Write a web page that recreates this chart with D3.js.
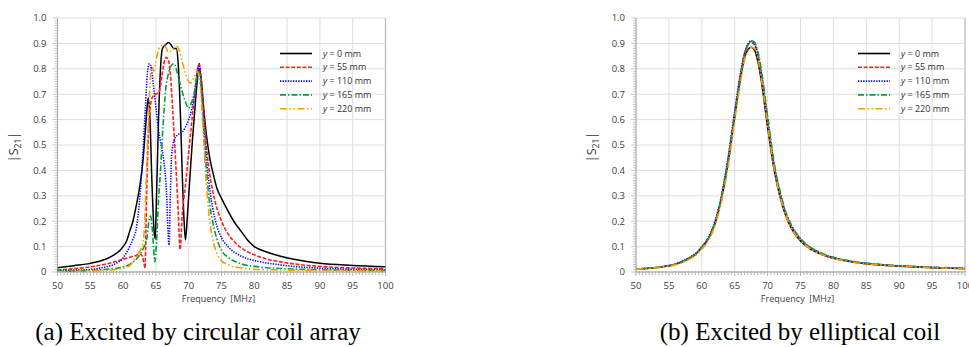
<!DOCTYPE html>
<html>
<head>
<meta charset="utf-8">
<script src="https://cdn.jsdelivr.net/npm/d3@7"></script>
<style>
  html,body{margin:0;padding:0;background:#fff;}
  svg{display:block;}
  text{font-family:"Open Sans","Noto Sans",sans-serif;}
  text.caption{font-family:"Liberation Serif","Times New Roman",serif;}
</style>
</head>
<body>
<svg id="chart" width="969" height="347"></svg>
<script>
// ---------- DATA ----------
const seriesNames = ["y = 0 mm","y = 55 mm","y = 110 mm","y = 165 mm","y = 220 mm"];
const xTicks = [50,55,60,65,70,75,80,85,90,95,100];
const yTicks = [0,0.1,0.2,0.3,0.4,0.5,0.6,0.7,0.8,0.9,1.0];
const yTickLabels = ["0","0.1","0.2","0.3","0.4","0.5","0.6","0.7","0.8","0.9","1.0"];
const captions = ["(a) Excited by circular coil array","(b) Excited by elliptical coil"];

// (a) circular coil array: [frequency MHz, |S21|]
const circY0 = [[50,0.017],[52.5,0.025],[55,0.034],[57.5,0.052],[58.5,0.065],[59.5,0.085],[60,0.1],[60.5,0.12],[61,0.16],[61.5,0.2],[62,0.26],[62.5,0.33],[63,0.43],[63.4,0.56],[63.7,0.66],[63.85,0.685],[64.1,0.6],[64.4,0.35],[64.7,0.17],[64.9,0.13],[65.1,0.3],[65.4,0.6],[65.7,0.8],[66,0.88],[66.5,0.895],[66.9,0.904],[67.3,0.895],[67.7,0.88],[68.1,0.88],[68.4,0.82],[68.7,0.65],[69,0.4],[69.3,0.2],[69.5,0.126],[69.8,0.22],[70.2,0.38],[70.6,0.53],[71,0.66],[71.3,0.75],[71.6,0.8],[71.9,0.76],[72.3,0.64],[72.7,0.54],[73.2,0.45],[73.7,0.39],[74.3,0.33],[75,0.29],[76,0.24],[77,0.195],[78,0.16],[79,0.125],[80,0.1],[82,0.078],[84,0.062],[86,0.05],[88,0.041],[90,0.034],[95,0.026],[100,0.021]];
const circY55 = [[50,0.008],[52.5,0.013],[55,0.02],[57.5,0.032],[59,0.042],[60,0.05],[61,0.058],[62,0.065],[62.5,0.07],[62.9,0.065],[63.2,0.03],[63.35,0.015],[63.5,0.2],[63.7,0.42],[63.9,0.56],[64.1,0.64],[64.5,0.69],[65,0.7],[65.5,0.71],[65.9,0.77],[66.3,0.83],[66.6,0.845],[66.9,0.835],[67.2,0.78],[67.6,0.62],[68,0.44],[68.4,0.24],[68.7,0.088],[69,0.22],[69.5,0.34],[70,0.47],[70.5,0.6],[71,0.72],[71.3,0.79],[71.6,0.82],[71.9,0.76],[72.3,0.62],[72.8,0.47],[73.3,0.37],[74,0.28],[75,0.2],[76,0.15],[77,0.118],[78,0.095],[80,0.068],[82,0.05],[84,0.04],[86,0.032],[90,0.022],[95,0.016],[100,0.013]];
const circY110 = [[50,0.005],[52.5,0.007],[55,0.01],[57,0.018],[59,0.035],[60,0.055],[60.5,0.075],[61,0.1],[61.5,0.13],[62,0.17],[62.5,0.28],[63,0.46],[63.4,0.65],[63.7,0.78],[64,0.82],[64.3,0.8],[64.6,0.74],[65,0.65],[65.4,0.56],[65.8,0.5],[66.2,0.44],[66.6,0.32],[66.85,0.16],[67,0.106],[67.2,0.3],[67.4,0.46],[67.8,0.52],[68.3,0.54],[69,0.55],[69.5,0.57],[70,0.6],[70.5,0.645],[71,0.72],[71.3,0.78],[71.6,0.82],[71.9,0.74],[72.3,0.58],[72.8,0.42],[73.3,0.31],[74,0.21],[75,0.135],[76,0.1],[77,0.077],[78,0.062],[80,0.045],[82,0.035],[84,0.028],[86,0.022],[90,0.015],[95,0.011],[100,0.009]];
const circY165 = [[50,0.003],[52.5,0.004],[55,0.006],[58,0.012],[60,0.02],[61,0.03],[62,0.05],[62.6,0.07],[63.2,0.1],[63.6,0.13],[64,0.21],[64.2,0.22],[64.45,0.17],[64.85,0.04],[65.1,0.12],[65.4,0.28],[65.7,0.4],[66.1,0.58],[66.5,0.72],[66.9,0.78],[67.4,0.815],[67.8,0.82],[68.2,0.79],[68.6,0.75],[69,0.71],[69.5,0.67],[69.95,0.645],[70.4,0.665],[70.8,0.7],[71.2,0.76],[71.6,0.79],[71.9,0.72],[72.2,0.6],[72.7,0.4],[73.2,0.27],[73.8,0.18],[74.3,0.13],[75,0.085],[76,0.058],[77,0.042],[78,0.032],[80,0.022],[84,0.014],[90,0.009],[95,0.007],[100,0.006]];
const circY220 = [[50,0.002],[55,0.004],[58,0.008],[60,0.015],[61,0.025],[61.5,0.04],[62,0.06],[62.5,0.08],[63,0.11],[63.3,0.2],[63.6,0.42],[63.9,0.62],[64.2,0.78],[64.4,0.815],[64.7,0.79],[65,0.83],[65.4,0.875],[65.9,0.893],[66.4,0.89],[66.9,0.865],[67.3,0.87],[67.7,0.878],[68.2,0.888],[68.6,0.87],[69,0.83],[69.4,0.79],[69.8,0.76],[70.3,0.744],[70.8,0.765],[71.3,0.79],[71.6,0.77],[71.9,0.69],[72.2,0.56],[72.6,0.38],[73,0.25],[73.5,0.15],[74,0.095],[74.8,0.05],[76,0.028],[78,0.016],[80,0.011],[84,0.008],[90,0.006],[100,0.004]];

// (b) elliptical coil: shared frequency grid
const ellFreq = [50,52,54,56,58,59,60,61,62,63,64,65,66,66.5,67,67.5,68,68.5,69,70,71,72,73,74,75,76,77,78,80,82,85,88,90,95,100];
const ellY0   = [0.012,0.015,0.02,0.03,0.052,0.068,0.095,0.13,0.19,0.29,0.43,0.61,0.78,0.845,0.875,0.885,0.875,0.83,0.76,0.57,0.40,0.285,0.205,0.155,0.122,0.1,0.083,0.071,0.054,0.043,0.032,0.026,0.023,0.017,0.013];
const ellY55  = [0.012,0.015,0.021,0.031,0.054,0.07,0.098,0.134,0.196,0.296,0.445,0.625,0.795,0.86,0.893,0.905,0.895,0.855,0.785,0.595,0.415,0.297,0.212,0.162,0.128,0.104,0.087,0.074,0.056,0.045,0.033,0.027,0.024,0.018,0.014];
const ellY110 = [0.012,0.015,0.021,0.032,0.055,0.072,0.1,0.137,0.2,0.302,0.452,0.632,0.8,0.863,0.897,0.91,0.9,0.86,0.79,0.6,0.42,0.3,0.215,0.165,0.13,0.105,0.088,0.075,0.057,0.045,0.034,0.027,0.024,0.018,0.014];
const ellY165 = [0.012,0.015,0.021,0.031,0.053,0.07,0.097,0.133,0.195,0.295,0.44,0.62,0.79,0.855,0.893,0.91,0.905,0.87,0.805,0.615,0.43,0.307,0.22,0.168,0.132,0.107,0.09,0.077,0.058,0.046,0.035,0.028,0.025,0.019,0.015];
const ellY220 = [0.011,0.014,0.019,0.028,0.049,0.064,0.09,0.124,0.182,0.278,0.415,0.595,0.765,0.835,0.87,0.885,0.88,0.84,0.77,0.58,0.405,0.288,0.207,0.156,0.123,0.1,0.083,0.071,0.054,0.043,0.032,0.026,0.023,0.017,0.013];

// ---------- STYLE ----------
const colors = ["#000000","#ff2020","#0000ff","#00a040","#ff9900"];
const dashes = [null,"4,1.6","1.3,1.3","6,2,1.5,2","7,2.5,1.5,2.5,1.5,2.5"];

const svg = d3.select("#chart");

function drawPanel(cfg){
  const x = d3.scaleLinear().domain([50,100]).range([cfg.x0, cfg.x1]);
  const y = d3.scaleLinear().domain([0,1]).range([272, 18]);
  const g = svg.append("g");

  // grid
  g.append("g").selectAll("line").data(xTicks).join("line")
    .attr("x1",d=>x(d)).attr("x2",d=>x(d)).attr("y1",y(0)).attr("y2",y(1))
    .attr("stroke", d=> d===100 ? "#bdbdbd" : "#dedede").attr("stroke-width", d=> d===100?1.3:1);
  g.append("g").selectAll("line").data(yTicks).join("line")
    .attr("x1",x(50)).attr("x2",x(100)).attr("y1",d=>y(d)).attr("y2",d=>y(d))
    .attr("stroke","#dedede").attr("stroke-width",1);

  // minor ticks
  const xMinor = d3.range(50,100.001,0.5);
  g.append("g").selectAll("line").data(xMinor).join("line")
    .attr("x1",d=>x(d)).attr("x2",d=>x(d)).attr("y1",y(0)-1).attr("y2",d=> (d%5===0)? y(0)+4 : y(0)+3)
    .attr("stroke","#a0a0a0").attr("stroke-width",0.8);
  const yMinor = d3.range(0,1.0001,0.01);
  g.append("g").selectAll("line").data(yMinor).join("line")
    .attr("x1",d=> (Math.round(d*100)%10===0)? x(50)-5 : x(50)-3).attr("x2",x(50))
    .attr("y1",d=>y(d)).attr("y2",d=>y(d))
    .attr("stroke","#b0b0b0").attr("stroke-width",0.7);

  // axis lines
  g.append("line").attr("x1",x(50)).attr("x2",x(50)).attr("y1",y(0)).attr("y2",y(1))
    .attr("stroke","#a6a6a6").attr("stroke-width",1);
  g.append("line").attr("x1",x(50)).attr("x2",x(100)).attr("y1",y(0)).attr("y2",y(0))
    .attr("stroke","#a6a6a6").attr("stroke-width",1);

  // tick labels
  g.append("g").selectAll("text").data(yTicks).join("text")
    .attr("x",x(50)-11).attr("y",d=>y(d)).attr("dy","0.35em")
    .attr("text-anchor","end").attr("font-size",9.5).attr("fill","#404040")
    .text((d,i)=>yTickLabels[i]);
  g.append("g").selectAll("text").data(xTicks).join("text")
    .attr("x",d=>x(d)).attr("y",289).attr("text-anchor","middle")
    .attr("font-size",9.5).attr("fill","#404040").text(d=>d);

  // axis titles
  g.append("text").attr("x",(x(50)+x(100))/2 - 3).attr("y",301.5).attr("text-anchor","middle")
    .attr("font-size",9).attr("fill","#404040").attr("xml:space","preserve").text("Frequency  [MHz]");
  const yt = g.append("text").attr("transform",`translate(${cfg.titleX},147) rotate(-90)`)
    .attr("text-anchor","middle").attr("font-size",12.5).attr("fill","#333");
  yt.append("tspan").text("|S");
  yt.append("tspan").attr("font-size",8.5).attr("dy",3).text("21");
  yt.append("tspan").attr("dy",-3).text("|");

  // lines
  const line = d3.line().x(d=>x(d[0])).y(d=>y(d[1])).curve(d3.curveMonotoneX);
  const clip = "clip"+cfg.id;
  svg.append("clipPath").attr("id",clip).append("rect")
    .attr("x",x(50)).attr("y",y(1)-2).attr("width",x(100)-x(50)).attr("height",y(0)-y(1)+2);
  const lg = g.append("g").attr("clip-path",`url(#${clip})`);
  cfg.series.forEach((s,i)=>{
    lg.append("path").datum(s).attr("d",line).attr("fill","none")
      .attr("stroke",colors[i]).attr("stroke-width",i===0?1.5:1.6)
      .attr("stroke-dasharray",dashes[i]).attr("stroke-linejoin","round");
  });

  // legend
  const leg = g.append("g");
  seriesNames.forEach((nm,i)=>{
    const yy = 53.5 + i*13.8;
    leg.append("line").attr("x1",cfg.legX).attr("x2",cfg.legX+32).attr("y1",yy).attr("y2",yy)
      .attr("stroke",colors[i]).attr("stroke-width",1.6).attr("stroke-dasharray",dashes[i]);
    const t = leg.append("text").attr("x",cfg.legX+43).attr("y",yy).attr("dy","0.35em")
      .attr("font-size",9).attr("fill","#333");
    t.append("tspan").attr("font-style","italic").text("y");
    t.append("tspan").text(nm.slice(1));
  });

  // caption
  svg.append("text").attr("class","caption").attr("x",cfg.capX).attr("y",340).attr("text-anchor","middle")
    .attr("font-size",25).attr("fill","#000").text(cfg.caption);
}

drawPanel({id:"a", x0:57.5, x1:385.5, titleX:18, legX:280, capX:198, caption:captions[0],
  series:[circY0,circY55,circY110,circY165,circY220]});

const ellSeries = [ellY0,ellY55,ellY110,ellY165,ellY220].map(vals => vals.map((v,i)=>[ellFreq[i],v]));
drawPanel({id:"b", x0:636, x1:965, titleX:596, legX:858, capX:800, caption:captions[1],
  series:ellSeries});
</script>
</body>
</html>
